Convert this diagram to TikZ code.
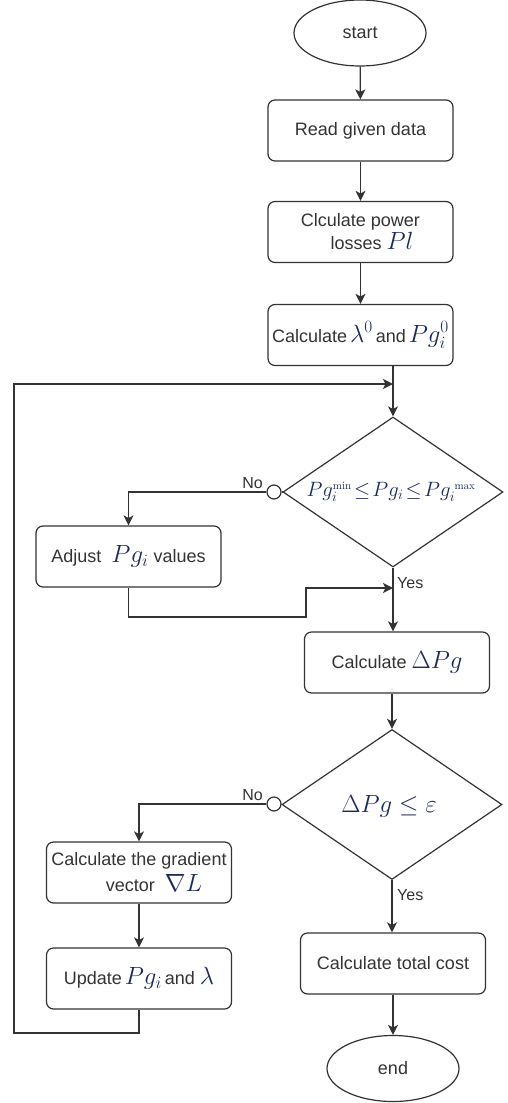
\documentclass[tikz,border=0pt]{standalone}
\usepackage[no-math]{fontspec}
\setmainfont{Liberation Sans}
\usetikzlibrary{shapes.geometric,arrows.meta}
\definecolor{lc}{HTML}{333333}
\definecolor{tc}{HTML}{333333}
\definecolor{mc}{HTML}{1C2A5A}
\newcommand\tf{\fontsize{18}{22}\selectfont}
\newcommand\lf{\fontsize{16}{18}\selectfont}
\newcommand\mth[1]{{\fontsize{24}{22}\selectfont\color{mc}$#1$}}
\newcommand\mths[1]{{\fontsize{21}{22}\selectfont\color{mc}$#1$}}
\tikzset{
  ln/.style={draw=lc, line width=1.2pt},
  arr/.style={ln, -{Stealth[length=10pt,width=10pt,inset=2.5pt]}},
  box/.style={draw=lc, line width=1.2pt, rounded corners=7pt, minimum width=185pt,
    minimum height=61pt, inner sep=0pt, align=center, font=\tf, text=tc},
  term/.style={ellipse, draw=lc, line width=1.2pt, minimum width=132pt,
    minimum height=66pt, inner sep=0pt, font=\tf, text=tc},
  dia/.style={diamond, draw=lc, line width=1.2pt, minimum width=220pt,
    minimum height=150pt, inner sep=0pt},
  circ/.style={circle, draw=lc, line width=1.2pt, fill=white, minimum size=14pt, inner sep=0pt},
  lbl/.style={font=\lf, text=tc, inner sep=0pt},
}
\begin{document}
\begin{tikzpicture}[x=1pt,y=-1pt]
\useasboundingbox (0,0) rectangle (507,1103);
% nodes
\node[term] (start) at (360,33) {start};
\node[box] (read) at (360.5,130.5) {Read given data};
\node[box] (loss) at (360.5,232) {Clculate power\\[1pt]\hspace*{23pt}losses \mth{Pl}};
\node[box] (init) at (360.5,335) {Calculate\,\mth{\lambda^0}\,and\,\mth{Pg_i^0}};
\node[dia] (d1) at (393,492) {};
\node[inner sep=0pt] (t1) at (391,492) {\mths{Pg_i^{\scriptscriptstyle\mathrm{min}}\!\le\! Pg_i\!\le\! Pg_i^{\;\scriptscriptstyle\mathrm{max}}}};
\node[circ] (c1) at (274,492) {};
\node[lbl, anchor=east] (no1) at (263,483) {No};
\node[box] (adj) at (128.5,556.5) {Adjust \ \mth{Pg_i} values};
\node[lbl, anchor=west] (yes1) at (397,583) {Yes};
\node[box] (dpg) at (397,662.5) {Calculate \mth{\Delta Pg}};
\node[dia] (d2) at (392,804.5) {};
\node[inner sep=0pt] (t2) at (389,806) {\mth{\Delta Pg\le \varepsilon}};
\node[circ] (c2) at (274,804) {};
\node[lbl, anchor=east] (no2) at (263,795) {No};
\node[box] (grad) at (139,872.5) {Calculate the gradient\\[4pt]\hspace*{30pt}vector \ \mth{\nabla L}};
\node[box] (upd) at (139,978.5) {Update\,\mth{Pg_i}\,and \mth{\lambda}};
\node[lbl, anchor=west] (yes2) at (397,895) {Yes};
\node[box] (tot) at (393,963.5) {Calculate total cost};
\node[term] (end) at (393,1068.5) {end};
% helper coordinates
\coordinate (lb) at (14,1033);
\coordinate (lt) at (14,384);
\coordinate (m1) at (306,617);
\coordinate (m2) at (306,588);
% connectors
\draw[arr] (start) -- (read);
\draw[arr] (read) -- (loss);
\draw[arr] (loss) -- (init);
\draw[arr] (init.south -| d1.north) -- (d1.north);
\draw[ln] (d1.west) -- (c1.east);
\draw[arr] (c1.west) -| (adj.north);
\draw[arr] (adj.south) |- (m1) -- (m2) -- (m2 -| d1.south);
\draw[arr] (d1.south) -- (dpg.north -| d1.south);
\draw[arr] (dpg.south -| d2.north) -- (d2.north);
\draw[ln] (d2.west) -- (c2.east);
\draw[arr] (c2.west) -| (grad.north);
\draw[arr] (grad) -- (upd);
\draw[arr] (upd.south) |- (lb) -- (lt) -- (lt -| d1.north);
\draw[arr] (d2.south) -- (tot.north -| d2.south);
\draw[arr] (tot.south -| end.north) -- (end.north);
\end{tikzpicture}
\end{document}
